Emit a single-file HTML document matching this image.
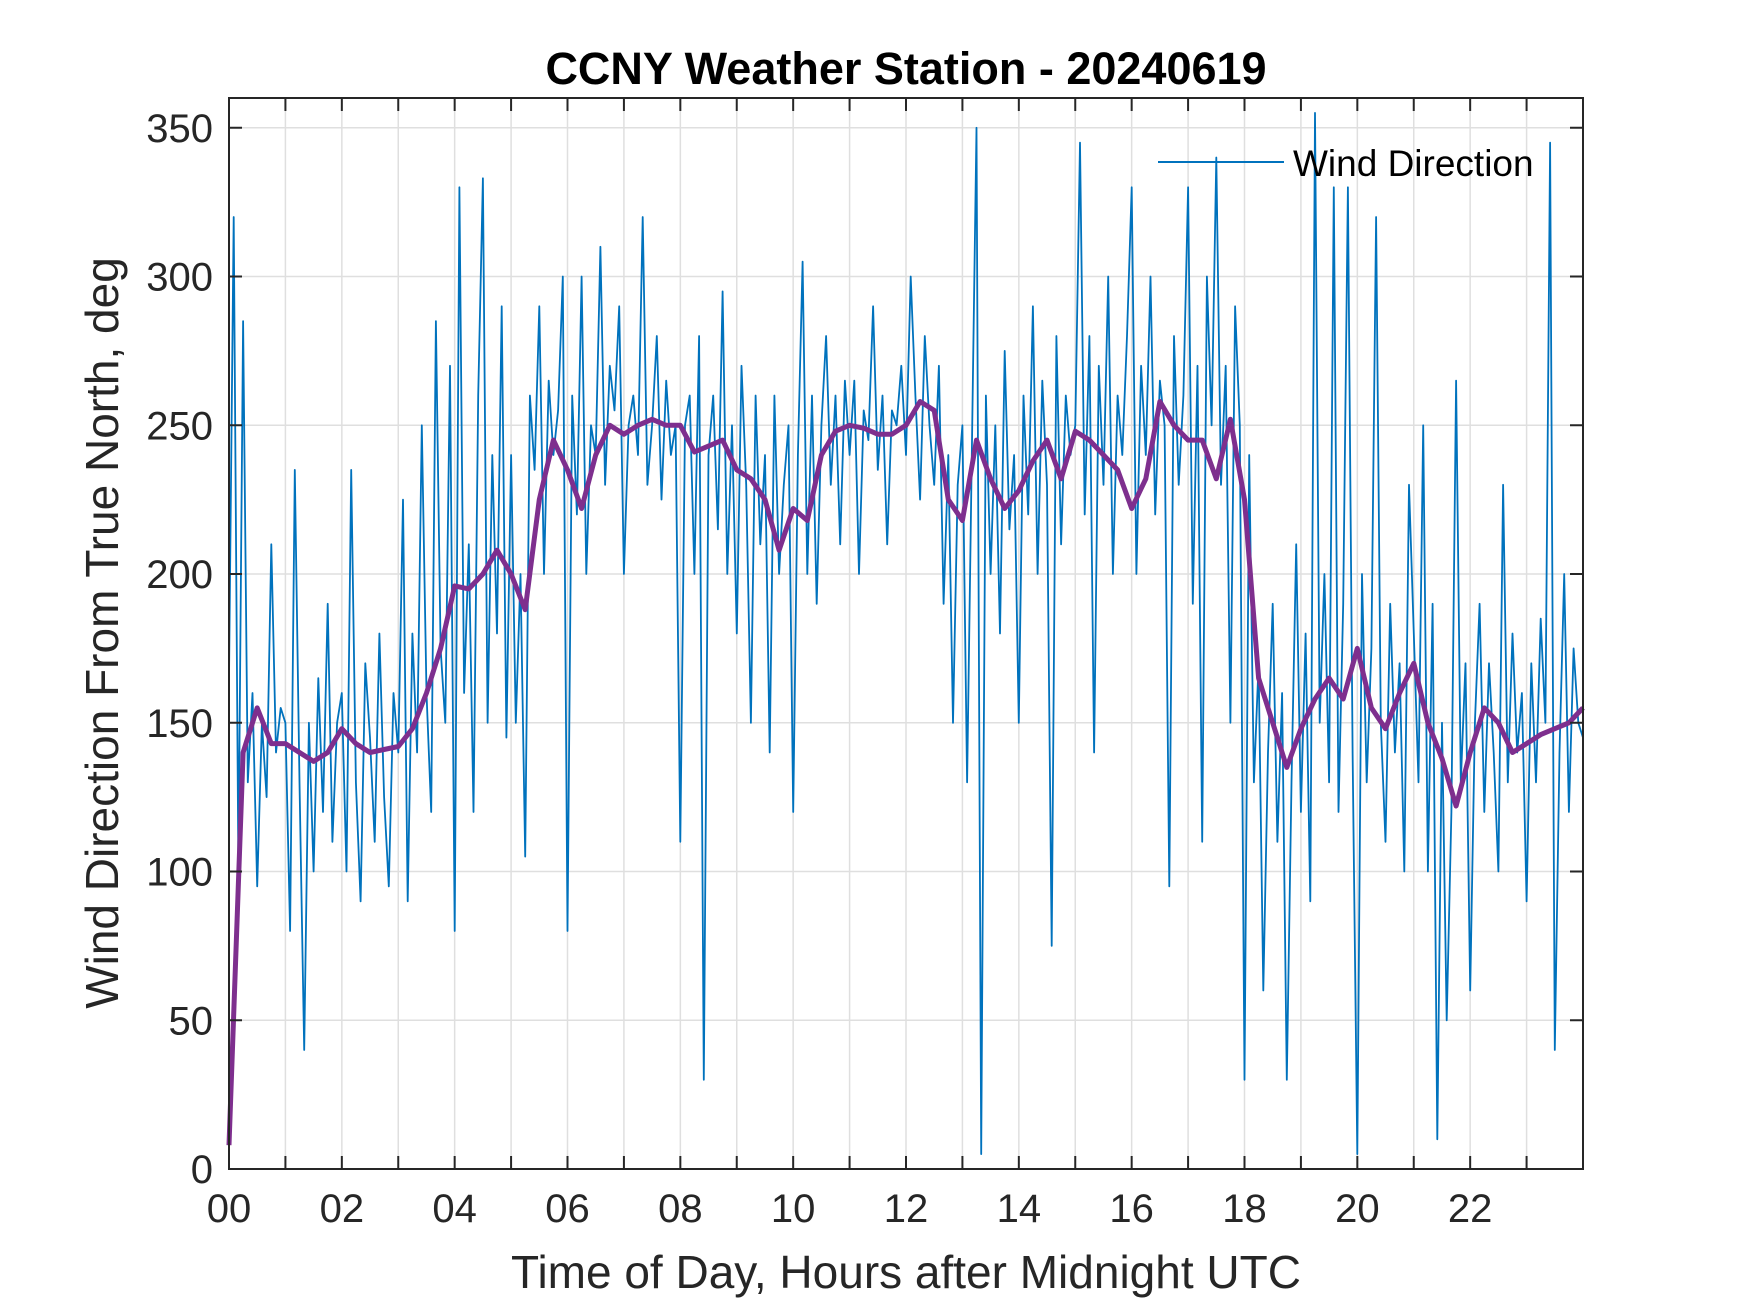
<!DOCTYPE html>
<html><head><meta charset="utf-8">
<style>
html,body{margin:0;padding:0;background:#fff;}
svg{display:block;font-family:"Liberation Sans",Arial,sans-serif;}
</style></head>
<body>
<svg id="chart" width="1750" height="1313" viewBox="0 0 1750 1313" xmlns="http://www.w3.org/2000/svg">
<rect width="1750" height="1313" fill="#fff"/>
<g id="grid"></g>
<g id="series"></g>
<g id="axes"></g>
<text x="906" y="84" text-anchor="middle" font-size="45" font-weight="bold" fill="#000">CCNY Weather Station - 20240619</text>
<text x="906" y="1288" text-anchor="middle" font-size="46" fill="#262626">Time of Day, Hours after Midnight UTC</text>
<text transform="translate(118,633) rotate(-90)" text-anchor="middle" font-size="46" fill="#262626">Wind Direction From True North, deg</text>
<g>
<line x1="1158" y1="162" x2="1284" y2="162" stroke="#0072BD" stroke-width="2"/>
<text x="1293" y="176" font-size="37" fill="#000">Wind Direction</text>
</g>
</svg>
<script>
const xTicks = [0,2,4,6,8,10,12,14,16,18,20,22];
const xTickLabels = ["00","02","04","06","08","10","12","14","16","18","20","22"];
const yTicks = [0,50,100,150,200,250,300,350];
const yTickLabels = ["0","50","100","150","200","250","300","350"];
// Wind direction, 5-minute samples (deg)
const windDir = [
165,320,100,285,130,160,95,150,125,210,140,155,
150,80,235,130,40,150,100,165,120,190,110,150,
160,100,235,130,90,170,145,110,180,125,95,160,
140,225,90,180,140,250,160,120,285,175,150,270,
80,330,160,210,120,260,333,150,240,180,290,145,
240,150,200,105,260,235,290,200,265,240,255,300,
80,260,220,300,200,250,240,310,230,270,255,290,
200,250,260,240,320,230,250,280,225,265,240,250,
110,250,260,200,280,30,240,260,215,295,200,250,
180,270,230,150,260,210,240,140,260,200,230,250,
120,240,305,200,260,190,250,280,230,260,210,265,
240,265,200,255,245,290,235,260,210,255,250,270,
240,300,260,225,280,250,230,270,190,240,150,230,
250,130,240,350,5,260,200,250,180,275,215,240,
150,260,220,290,200,265,230,75,280,210,260,240,
250,345,220,280,140,270,230,300,200,260,240,280,
330,200,270,240,300,220,265,250,95,280,230,260,
330,190,270,110,300,250,340,230,270,150,290,250,
30,240,130,170,60,140,190,110,160,30,130,210,
120,180,90,355,150,200,130,330,120,190,330,140,
5,200,130,175,320,150,110,190,140,170,100,230,
180,130,250,100,190,10,150,50,120,265,130,170,
60,150,190,120,170,140,100,230,130,180,140,160,
90,170,130,185,150,345,40,140,200,120,175,150,145];
const windStep = 5/60;
// Running mean, 15-minute samples (deg)
const windMean = [8,140,155,143,143,140,137,140,148,143,140,141,142,148,160,175,196,195,200,208,200,188,225,245,235,222,240,250,247,250,252,250,250,241,243,245,235,232,225,208,222,218,240,248,250,249,247,247,250,258,255,225,218,245,232,222,228,238,245,232,248,245,240,235,222,232,258,250,245,245,232,252,225,165,150,135,148,158,165,158,175,155,148,160,170,150,138,122,140,155,150,140,143,146,148,150,155];
const meanStep = 0.25;

const L=229,R=1583,T=98,B=1169;
const xMax=24,yMax=360;
const xs=h=>L+(h/xMax)*(R-L);
const ys=v=>B-(v/yMax)*(B-T);
const NS="http://www.w3.org/2000/svg";
function mk(tag,attrs,parent){const e=document.createElementNS(NS,tag);for(const k in attrs)e.setAttribute(k,attrs[k]);parent.appendChild(e);return e;}
const grid=document.getElementById('grid'),axes=document.getElementById('axes'),series=document.getElementById('series');

for(let h=1;h<24;h++){
  const g=mk('line',{x1:xs(h),x2:xs(h),y1:T,y2:B,stroke:'#dfdfdf','stroke-width':1.5},grid);
  
  
}
yTicks.forEach(v=>{if(v===0)return;
  const g=mk('line',{x1:L,x2:R,y1:ys(v),y2:ys(v),stroke:'#dfdfdf','stroke-width':1.5},grid);
  
  
});

let d='';
windDir.forEach((v,i)=>{d+=(i?'L':'M')+xs(Math.min(i*windStep,xMax)).toFixed(1)+','+ys(v).toFixed(1);});
const bl=mk('path',{d:d,fill:'none',stroke:'#0072BD','stroke-width':1.8,'stroke-linejoin':'round'},series);



let d2='';
windMean.forEach((v,i)=>{d2+=(i?'L':'M')+xs(i*meanStep).toFixed(1)+','+ys(v).toFixed(1);});
const pl=mk('path',{d:d2,fill:'none',stroke:'#7E2F8E','stroke-width':5,'stroke-linejoin':'round'},series);



const fr=mk('rect',{x:L,y:T,width:R-L,height:B-T,fill:'none',stroke:'#262626','stroke-width':2},axes);


for(let h=1;h<24;h++){
  mk('line',{x1:xs(h),x2:xs(h),y1:B,y2:B-13,stroke:'#262626','stroke-width':2},axes);
  mk('line',{x1:xs(h),x2:xs(h),y1:T,y2:T+13,stroke:'#262626','stroke-width':2},axes);
}
xTicks.forEach((h,i)=>{
  const t=mk('text',{x:xs(h),y:B+53,'text-anchor':'middle','font-size':40,fill:'#262626'},axes);
  t.textContent=xTickLabels[i];
  
  
});
yTicks.forEach((v,i)=>{
  mk('line',{x1:L,x2:L+13,y1:ys(v),y2:ys(v),stroke:'#262626','stroke-width':2},axes);
  mk('line',{x1:R,x2:R-13,y1:ys(v),y2:ys(v),stroke:'#262626','stroke-width':2},axes);
  const t=mk('text',{x:L-16,y:ys(v)+14,'text-anchor':'end','font-size':40,fill:'#262626'},axes);
  t.textContent=yTickLabels[i];
  
  
});
</script>
</body></html>
